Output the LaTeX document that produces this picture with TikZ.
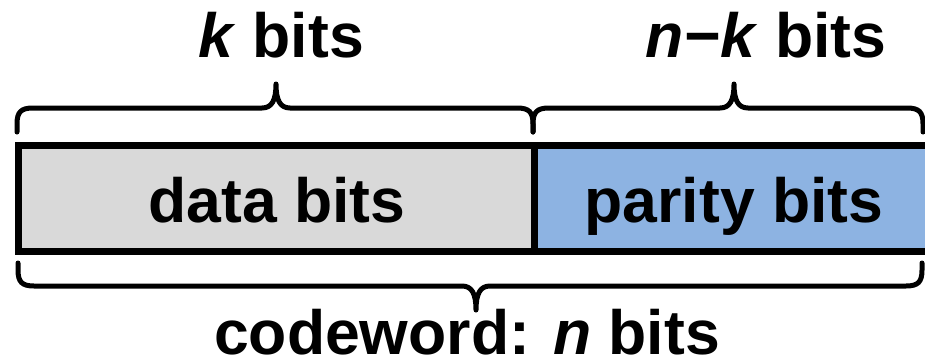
\documentclass[tikz,border=0pt]{standalone}
\usepackage{fontspec}
\setmainfont{Liberation Sans}
\definecolor{datagray}{HTML}{D9D9D9}
\definecolor{parblue}{HTML}{8DB3E2}
\begin{document}
\begin{tikzpicture}[x=1pt,y=-1pt,
  lbl/.style={anchor=base,inner sep=0pt,font=\fontsize{62.5}{70}\selectfont\bfseries},
  boxline/.style={line width=7pt,line join=miter},
  bracel/.style={line width=5pt,line cap=round,line join=round}]
\useasboundingbox (0,0) rectangle (925,356);
% boxes
\path[fill=datagray] (18,145) rectangle (534,251);
\path[fill=parblue] (534,145) rectangle (929,251);
\draw[boxline] (18,145) rectangle (929,251);
\draw[boxline] (534,145) -- (534,251);
% texts
\node[lbl] (data) at (277,222) {data bits};
\node[lbl] (par) at (734,222) {parity bits};
\node[lbl] (k) at (281,57) {\textit{k} bits};
\node[lbl] (nk) at (766,57) {\textit{n−k} bits};
\node[lbl] (cw) at (467,354) {codeword: \textit{n} bits};
% top braces
\draw[bracel] (17,132) -- (17,124) .. controls (17,112) and (21,108) .. (33,108)
  -- (262,108) .. controls (272,108) and (276,100) .. (276,84)
  .. controls (276,100) and (280,108) .. (290,108)
  -- (517,108) .. controls (529,108) and (533,112) .. (533,124) -- (533,132);
\draw[bracel] (533,132) -- (533,124) .. controls (533,112) and (537,108) .. (549,108)
  -- (720,108) .. controls (730,108) and (734,100) .. (734,84)
  .. controls (734,100) and (738,108) .. (748,108)
  -- (907,108) .. controls (919,108) and (923,112) .. (923,124) -- (923,132);
% bottom brace
\draw[bracel] (18,263) -- (18,270) .. controls (18,282) and (22,286) .. (34,286)
  -- (462,286) .. controls (472,286) and (476,294) .. (476,310)
  .. controls (476,294) and (480,286) .. (490,286)
  -- (906,286) .. controls (918,286) and (922,282) .. (922,270) -- (922,263);
\end{tikzpicture}
\end{document}
